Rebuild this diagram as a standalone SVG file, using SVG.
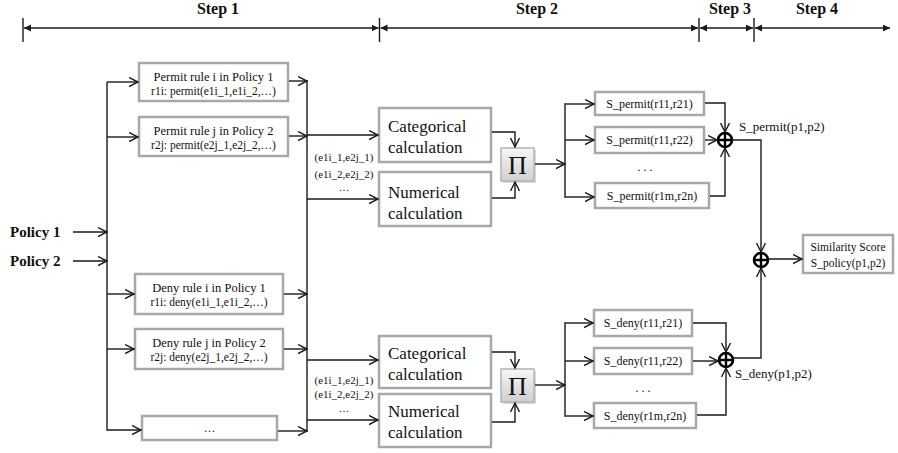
<svg xmlns="http://www.w3.org/2000/svg" width="898" height="453" viewBox="0 0 898 453" font-family="'Liberation Serif','Times New Roman','DejaVu Serif',serif">
<style>
  .box{fill:#fff;stroke:#a8a8a8;stroke-width:2.5}
  .ln{fill:none;stroke:#1a1a1a;stroke-width:1.4}
  .ar{fill:none;stroke:#1a1a1a;stroke-width:1.4;marker-end:url(#oa)}
  .step{fill:none;stroke:#1a1a1a;stroke-width:1.4;marker-start:url(#fa);marker-end:url(#fa)}
  .tick{stroke:#1a1a1a;stroke-width:1.4}
  text{font-family:'Liberation Serif','Times New Roman','DejaVu Serif',serif;fill:#111}
  .hd{font-size:15px;font-weight:bold}
  .st{font-size:16px;font-weight:bold;text-anchor:middle}
  .r1{font-size:12.5px;text-anchor:middle}
  .r2{font-size:11.5px;text-anchor:middle}
  .calc{font-size:17px}
  .pair{font-size:11px;text-anchor:middle}
  .s{font-size:12px;text-anchor:middle}
  .lab{font-size:13px}
  .pi{font-size:26px;text-anchor:middle}
  .plus{fill:#fff;stroke:#000;stroke-width:2.6}
</style>
<defs>
  <marker id="oa" markerUnits="userSpaceOnUse" markerWidth="12" markerHeight="12" refX="9" refY="5" orient="auto">
    <path d="M0,0.5 L9,5 L0,9.5" fill="none" stroke="#1a1a1a" stroke-width="1.4"/>
  </marker>
  <marker id="fa" markerUnits="userSpaceOnUse" markerWidth="10" markerHeight="10" refX="7" refY="3.5" orient="auto-start-reverse">
    <path d="M0,0 L7,3.5 L0,7 z" fill="#1a1a1a"/>
  </marker>
  <linearGradient id="pig" x1="0" y1="0" x2="0" y2="1">
    <stop offset="0" stop-color="#f7f7f7"/>
    <stop offset="1" stop-color="#cfcfcf"/>
  </linearGradient>
</defs>

<g id="steps">
  <line class="tick" x1="23" y1="18" x2="23" y2="42"/>
  <line class="tick" x1="379.5" y1="18" x2="379.5" y2="42"/>
  <line class="tick" x1="699" y1="18" x2="699" y2="42"/>
  <line class="tick" x1="754" y1="18" x2="754" y2="42"/>
  <line class="step" x1="24" y1="28" x2="378.5" y2="28"/>
  <line class="step" x1="380.5" y1="28" x2="698" y2="28"/>
  <line class="step" x1="700" y1="28" x2="753" y2="28"/>
  <line class="step" x1="755" y1="28" x2="890" y2="28"/>
  <text class="st" x="218" y="14">Step 1</text>
  <text class="st" x="537" y="14">Step 2</text>
  <text class="st" x="730" y="14">Step 3</text>
  <text class="st" x="817" y="14">Step 4</text>
</g>

<g id="policy1"><text class="hd" x="10" y="237">Policy 1</text></g>
<g id="policy2"><text class="hd" x="10" y="266">Policy 2</text></g>

<g id="permit-i">
  <rect class="box" x="139" y="63" width="149" height="38"/>
  <text class="r1" x="213.5" y="81">Permit rule i in Policy 1</text>
  <text class="r2" x="213.5" y="95">r1i: permit(e1i_1,e1i_2,…)</text>
</g>
<g id="permit-j">
  <rect class="box" x="139" y="117" width="149" height="39"/>
  <text class="r1" x="213.5" y="135">Permit rule j in Policy 2</text>
  <text class="r2" x="213.5" y="149">r2j: permit(e2j_1,e2j_2,…)</text>
</g>
<g id="deny-i">
  <rect class="box" x="135" y="274" width="148" height="40"/>
  <text class="r1" x="209" y="292">Deny  rule i in Policy 1</text>
  <text class="r2" x="209" y="306">r1i: deny(e1i_1,e1i_2,…)</text>
</g>
<g id="deny-j">
  <rect class="box" x="135" y="329" width="148" height="40"/>
  <text class="r1" x="209" y="347">Deny  rule j in Policy 2</text>
  <text class="r2" x="209" y="361">r2j: deny(e2j_1,e2j_2,…)</text>
</g>
<g id="rule-more">
  <rect class="box" x="142" y="416" width="135" height="24"/>
  <text class="r2" x="209.5" y="432">…</text>
</g>

<g id="cat-top">
  <rect class="box" x="379" y="108" width="112" height="54"/>
  <text class="calc" x="388" y="132">Categorical</text>
  <text class="calc" x="388" y="153">calculation</text>
</g>
<g id="num-top">
  <rect class="box" x="379" y="172" width="112" height="54"/>
  <text class="calc" x="388" y="198">Numerical</text>
  <text class="calc" x="388" y="219">calculation</text>
</g>
<g id="cat-bot">
  <rect class="box" x="379" y="336" width="112" height="52"/>
  <text class="calc" x="388" y="359">Categorical</text>
  <text class="calc" x="388" y="380">calculation</text>
</g>
<g id="num-bot">
  <rect class="box" x="379" y="394" width="112" height="53"/>
  <text class="calc" x="388" y="417">Numerical</text>
  <text class="calc" x="388" y="438">calculation</text>
</g>

<g id="prod-top">
  <rect x="503" y="150" width="33" height="33" fill="#d8d8d8"/>
  <rect x="501" y="148" width="33" height="33" fill="url(#pig)" stroke="#b4b4b4" stroke-width="1.5"/>
  <text class="pi" x="517.5" y="174">Π</text>
</g>
<g id="prod-bot">
  <rect x="503" y="371" width="33" height="33" fill="#d8d8d8"/>
  <rect x="501" y="369" width="33" height="33" fill="url(#pig)" stroke="#b4b4b4" stroke-width="1.5"/>
  <text class="pi" x="517.5" y="395">Π</text>
</g>

<g id="sp1"><rect class="box" x="595" y="92" width="109" height="23"/><text class="s" x="649.5" y="108">S_permit(r11,r21)</text></g>
<g id="sp2"><rect class="box" x="595" y="127" width="109" height="26"/><text class="s" x="649.5" y="144">S_permit(r11,r22)</text></g>
<g id="sp3"><rect class="box" x="595" y="183" width="114" height="25"/><text class="s" x="652" y="200">S_permit(r1m,r2n)</text></g>
<text class="s" x="645" y="171">. . .</text>

<g id="sd1"><rect class="box" x="594" y="310" width="98" height="26"/><text class="s" x="643" y="327">S_deny(r11,r21)</text></g>
<g id="sd2"><rect class="box" x="594" y="348" width="98" height="26"/><text class="s" x="643" y="365">S_deny(r11,r22)</text></g>
<g id="sd3"><rect class="box" x="594" y="403" width="102" height="25"/><text class="s" x="645" y="420">S_deny(r1m,r2n)</text></g>
<text class="s" x="643" y="392">. . .</text>

<g id="sum-permit">
  <circle class="plus" cx="725" cy="140" r="7"/>
  <path d="M718,140 H732 M725,133 V147" stroke="#000" stroke-width="2.4"/>
  <text class="lab" x="739" y="131">S_permit(p1,p2)</text>
</g>
<g id="sum-deny">
  <circle class="plus" cx="726" cy="360" r="7"/>
  <path d="M719,360 H733 M726,353 V367" stroke="#000" stroke-width="2.4"/>
  <text class="lab" x="735" y="378">S_deny(p1,p2)</text>
</g>
<g id="sum-policy">
  <circle class="plus" cx="761" cy="260" r="7"/>
  <path d="M754,260 H768 M761,253 V267" stroke="#000" stroke-width="2.4"/>
</g>
<g id="score">
  <rect class="box" x="803" y="235" width="90" height="38"/>
  <text class="r2" x="848" y="251" font-size="11px">Similarity  Score</text>
  <text class="r2" x="848" y="267">S_policy(p1,p2)</text>
</g>

<g id="connectors">
  <line class="ar" x1="73" y1="232" x2="107" y2="232"/>
  <line class="ar" x1="73" y1="261" x2="107" y2="261"/>
  <line class="ln" x1="107" y1="82" x2="107" y2="430.7"/>
  <line class="ar" x1="107" y1="82" x2="138" y2="82"/>
  <line class="ar" x1="107" y1="137" x2="138" y2="137"/>
  <line class="ar" x1="107" y1="294" x2="134" y2="294"/>
  <line class="ar" x1="107" y1="349" x2="134" y2="349"/>
  <line class="ar" x1="107" y1="430" x2="141" y2="430"/>

  <line class="ar" x1="289" y1="81" x2="307" y2="81"/>
  <line class="ar" x1="289" y1="136" x2="307" y2="136"/>
  <line class="ar" x1="284" y1="294" x2="307" y2="294"/>
  <line class="ar" x1="284" y1="349" x2="307" y2="349"/>
  <line class="ar" x1="278" y1="431" x2="307" y2="431"/>
  <line class="ln" x1="307" y1="80.3" x2="307" y2="431.7"/>

  <line class="ar" x1="307" y1="135" x2="378" y2="135"/>
  <line class="ar" x1="307" y1="199" x2="378" y2="199"/>
  <line class="ar" x1="307" y1="360" x2="378" y2="360"/>
  <line class="ar" x1="307" y1="420" x2="378" y2="420"/>
  <text class="pair" x="344" y="161">(e1i_1,e2j_1)</text>
  <text class="pair" x="344" y="178">(e1i_2,e2j_2)</text>
  <text class="pair" x="344" y="191">…</text>
  <text class="pair" x="344" y="384">(e1i_1,e2j_1)</text>
  <text class="pair" x="344" y="398">(e1i_2,e2j_2)</text>
  <text class="pair" x="344" y="412">…</text>

  <path class="ar" d="M492,132 H515 V147"/>
  <path class="ar" d="M492,198 H515 V182"/>
  <path class="ar" d="M492,352 H515 V368"/>
  <path class="ar" d="M492,422 H515 V403"/>

  <line class="ar" x1="535" y1="164" x2="565" y2="164"/>
  <line class="ln" x1="565" y1="103.3" x2="565" y2="197.7"/>
  <line class="ar" x1="565" y1="104" x2="594" y2="104"/>
  <line class="ar" x1="565" y1="140" x2="594" y2="140"/>
  <line class="ar" x1="565" y1="197" x2="594" y2="197"/>
  <line class="ar" x1="535" y1="385" x2="565" y2="385"/>
  <line class="ln" x1="565" y1="322.3" x2="565" y2="416.7"/>
  <line class="ar" x1="565" y1="323" x2="593" y2="323"/>
  <line class="ar" x1="565" y1="361" x2="593" y2="361"/>
  <line class="ar" x1="565" y1="416" x2="593" y2="416"/>

  <path class="ar" d="M705,103 H725 V132"/>
  <line class="ar" x1="705" y1="140" x2="717" y2="140"/>
  <path class="ar" d="M710,196 H725 V148"/>
  <path class="ar" d="M732,140 H761 V252"/>

  <path class="ar" d="M693,323 H726 V352"/>
  <line class="ar" x1="693" y1="361" x2="718" y2="361"/>
  <path class="ar" d="M697,415 H726 V368"/>
  <path class="ar" d="M733,358 H761 V268"/>

  <line class="ar" x1="768" y1="259" x2="802" y2="259"/>
</g>
</svg>
